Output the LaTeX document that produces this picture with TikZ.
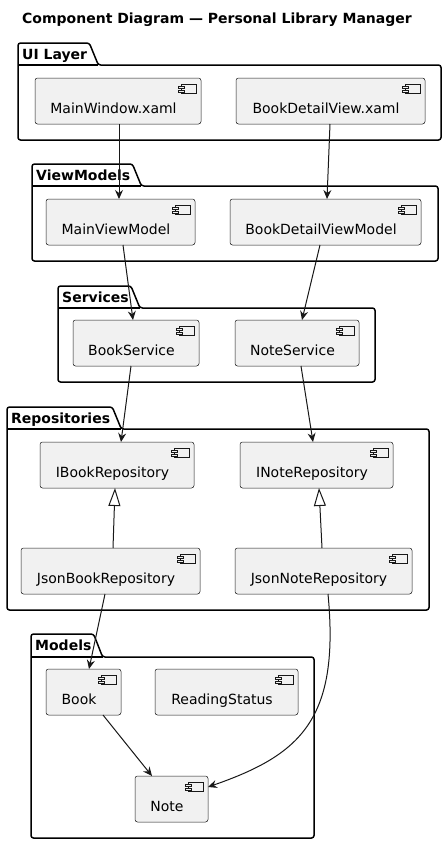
\documentclass[tikz,border=0pt]{standalone}
\usepackage{fontspec}
\setmainfont{DejaVu Sans}
\usetikzlibrary{arrows.meta,calc}
\definecolor{cline}{HTML}{181818}
\definecolor{cfill}{HTML}{F1F1F1}
\tikzset{
 comp/.style={draw=cline, fill=cfill, rounded corners=2.5pt, line width=0.5pt, minimum height=46pt, inner sep=0pt, outer sep=0pt},
 compicon/.style={draw=cline, fill=cfill, line width=0.5pt},
 pkg/.style={draw=black, line width=1.5pt, rounded corners=2.5pt},
 pkglabel/.style={font=\fontsize{14pt}{16pt}\selectfont\bfseries, anchor=base west, inner sep=0pt},
 complabel/.style={font=\fontsize{14pt}{16pt}\selectfont, anchor=base, inner sep=0pt},
 dep/.style={draw=cline, line width=1pt, -{Stealth[length=9pt,width=8pt,inset=3pt]}},
 impl/.style={draw=cline, line width=1pt, -{Triangle[open,length=18pt,width=12pt,fill=white]}},
}
\newcommand{\mycomp}[5]{%
  \node[comp, minimum width={#4-#2}] (#1) at ({(#2+#4)/2},{#3+23}) {};
  \node[complabel] (#1-lbl) at ($(#1.center)+(-4.5,12)$) {#5};
  \draw[compicon] ($(#1.north east)+(-20,6)$) rectangle ++(15,9);
  \draw[compicon] ($(#1.north east)+(-23,8)$) rectangle ++(6,2.5);
  \draw[compicon] ($(#1.north east)+(-23,12)$) rectangle ++(6,2.5);
}
% name, L, tabtop, bodytop, R, bottom, label
\newcommand{\mypkg}[7]{%
  \node[pkglabel] (#1) at ({#2+4},{#3+16}) {#7};
  \coordinate (#1-tt) at (#2,#3);
  \coordinate (#1-bt) at (#2,#4);
  \coordinate (#1-te) at ($(#1.east)+(2,0)$);
  \coordinate (#1-tb) at ($(#1.east)+(11,0)$);
  \draw[pkg] (#2,#6) -- (#1-tt) -- (#1-te |- #1-tt) -- (#1-tb |- #1-bt) -- (#5,#4) -- (#5,#6) -- cycle;
  \draw[pkg, rounded corners=0pt] (#1-bt) -- (#1-tb |- #1-bt);
}
\begin{document}
\begin{tikzpicture}[x=1pt,y=-1pt]
\fill[white] (0,0) rectangle (447,844);
\useasboundingbox (0,0) rectangle (447,844);

\node[anchor=base west, inner sep=0pt, font=\fontsize{14pt}{16pt}\selectfont\bfseries] (title) at (22,23) {Component Diagram — Personal Library Manager};

\mypkg{pUI}{18}{43}{65}{441}{140}{UI Layer}
\mypkg{pVM}{32}{164}{186}{438}{261}{ViewModels}
\mypkg{pSV}{58}{286}{308}{375}{382}{Services}
\mypkg{pRP}{7}{407}{429}{429}{610}{Repositories}
\mypkg{pMD}{31}{634}{657}{314}{838}{Models}

% components: name, left, top, right, label
\mycomp{mw}{35}{78}{201}{MainWindow.xaml}
\mycomp{bdv}{236}{78}{425}{BookDetailView.xaml}
\mycomp{mvm}{46}{199}{195}{MainViewModel}
\mycomp{bdvm}{230}{199}{421}{BookDetailViewModel}
\mycomp{bs}{73}{320}{199}{BookService}
\mycomp{ns}{235}{320}{359}{NoteService}
\mycomp{ibr}{40}{442}{194}{IBookRepository}
\mycomp{inr}{240}{442}{393}{INoteRepository}
\mycomp{jbr}{21}{548}{200}{JsonBookRepository}
\mycomp{jnr}{235}{548}{412}{JsonNoteRepository}
\mycomp{book}{46}{669}{121}{Book}
\mycomp{rs}{155}{669}{298}{ReadingStatus}
\mycomp{note}{135}{776}{208}{Note}

% connectors
\draw[dep] ([xshift=1pt]mw.south) -- ([xshift=-1.5pt]mvm.north);
\draw[dep] ([xshift=-0.5pt]bdv.south) -- ([xshift=1.5pt]bdvm.north);
\draw[dep] ([xshift=2.5pt]mvm.south) -- ([xshift=-3pt]bs.north);
\draw[dep] ([xshift=-5.5pt]bdvm.south) -- ([xshift=5pt]ns.north);
\draw[dep] ([xshift=-5pt]bs.south) -- ([xshift=4pt]ibr.north);
\draw[dep] ([xshift=4pt]ns.south) -- ([xshift=-3.5pt]inr.north);
\draw[impl] ([xshift=2.5pt]jbr.north) -- ([xshift=-2pt]ibr.south);
\draw[impl] ([xshift=-1.5pt]jnr.north) -- ([xshift=2.5pt]inr.south);
\draw[dep] ([xshift=-5.5pt]jbr.south) -- ([xshift=5.5pt]book.north);
\draw[dep] ([xshift=4.5pt]jnr.south) .. controls (340,720) and (300,755) .. ([yshift=12pt]note.east);
\draw[dep] ([xshift=19.5pt]book.south) -- ([xshift=-19.5pt]note.north);
\end{tikzpicture}
\end{document}
